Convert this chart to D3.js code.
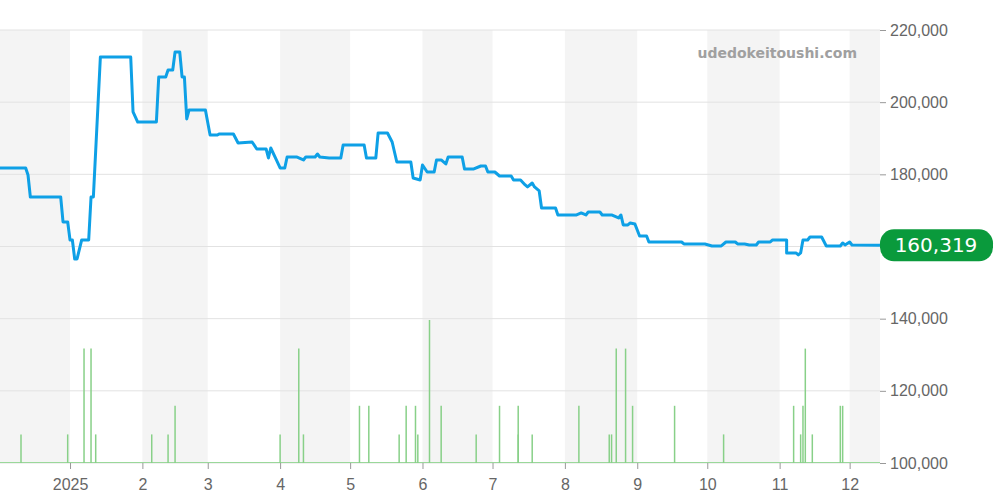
<!DOCTYPE html>
<html><head><meta charset="utf-8">
<script src="https://cdn.jsdelivr.net/npm/d3@7"></script>
<style>body{margin:0;background:#fff}svg{font-family:"DejaVu Sans",sans-serif}</style>
</head><body><svg id="c" width="1000" height="500"></svg>
<script>
// price series: [days since 2024-12-01, price]
var priceDays = [1,12,13,14,27,28,30,31,32,33,34,36,39,40,41,43,43,44,57,58,60,68,69,72,73,75,76,78,79,80,81,82,89,91,94,95,101,103,109,111,115,116,117,119,121,123,124,128,131,132,136,137,138,142,147,148,157,158,162,163,167,169,171,177,178,181,182,184,187,188,190,192,193,199,200,204,207,209,210,213,215,220,221,224,226,227,229,230,232,233,239,240,248,250,252,253,258,259,263,266,267,268,270,271,273,275,278,279,293,294,303,306,310,312,316,317,320,322,325,326,331,332,338,338,342,343,344,345,347,348,353,355,361,362,363,365,366,378];
var priceVals = [181760,181760,179820,173720,173720,166800,166800,161810,161810,156540,156540,161810,161810,173720,173720,199500,199500,212520,212520,197280,194500,194500,206980,206980,208920,208920,213900,213900,206980,206980,195340,197830,197830,190900,190900,191180,191180,188690,188970,187030,187030,184530,187300,184530,181760,181760,184810,184810,183980,184810,184810,185640,184810,184530,184530,188130,188130,184530,184530,191460,191460,188970,183420,183420,178990,178440,182590,180650,180650,183980,183980,182870,184810,184810,181480,181480,182310,182310,180650,180650,179540,179540,178440,178440,177050,176500,177600,176500,175390,170680,170680,168740,168740,169290,168740,169570,169570,168740,168740,167910,168740,165970,165970,166520,166240,162920,162920,161250,161250,160700,160700,160150,160150,161250,161250,160700,160700,160430,160430,161250,161250,161810,161810,158210,158210,157660,158210,161810,161810,162640,162640,160150,160150,160980,160430,161250,160430,160319];
// sales volume: [days since 2024-12-01, count]
var volDays = [10,30,37,40,42,66,73,76,121,129,131,155,159,172,175,179,180,185,190,205,215,223,223,229,249,262,263,265,269,272,290,311,341,344,345,346,349,361,362];
var volCounts = [1,1,4,4,1,1,1,2,1,4,1,2,2,1,2,2,1,5,2,1,2,1,2,1,2,1,1,4,4,2,2,1,2,1,2,4,1,2,2];
var yTicks = [100000,120000,140000,160000,180000,200000,220000];
var monthLabels = ["2025","2","3","4","5","6","7","8","9","10","11","12"];
var lastPrice = 160319;

var svg = d3.select("#c");
var W = 880, plotTop = 30, plotBottom = 463;
var t0 = new Date(2024, 11, 1);
function day(d){ return d3.timeDay.offset(t0, d); }

var x = d3.scaleTime().domain([new Date(2024,11,2), new Date(2025,11,14)]).range([0, W]);
var y = d3.scaleLinear().domain([100000, 220000]).range([plotBottom, plotTop]);
var yv = d3.scaleLinear().domain([0, 5]).range([plotBottom, plotBottom - 143]);

// alternating month bands
var months = d3.timeMonth.range(new Date(2024,11,1), new Date(2026,0,1));
svg.append("g").selectAll("rect").data(months.filter(function(m,i){ return i % 2 == 0; }))
  .enter().append("rect")
  .attr("x", function(m){ return Math.max(0, x(m)); })
  .attr("width", function(m){ return Math.min(W, x(d3.timeMonth.offset(m,1))) - Math.max(0, x(m)); })
  .attr("y", plotTop).attr("height", plotBottom - plotTop).attr("fill", "#f4f4f4");

svg.append("g").selectAll("line").data(yTicks).enter().append("line")
  .attr("x1", 0).attr("x2", W).attr("y1", y).attr("y2", y)
  .attr("stroke", "#e2e2e2").attr("stroke-width", 1);

// volume
svg.append("line").attr("x1",0).attr("x2",W).attr("y1",plotBottom-0.5).attr("y2",plotBottom-0.5)
  .attr("stroke","#9ad89a").attr("stroke-width",1);
svg.append("g").selectAll("line").data(volDays).enter().append("line")
  .attr("x1", function(d){ return x(day(d)); }).attr("x2", function(d){ return x(day(d)); })
  .attr("y1", plotBottom).attr("y2", function(d,i){ return yv(volCounts[i]); })
  .attr("stroke", "#88d088").attr("stroke-width", 1.5);

// price line
var line = d3.line().x(function(d){ return x(day(d)); }).y(function(d,i){ return y(priceVals[i]); });
svg.append("path").attr("d", line(priceDays)).attr("fill","none")
  .attr("stroke","#0ea0e6").attr("stroke-width",3).attr("stroke-linejoin","round");

// y axis (label under the badge is hidden)
var yAxis = d3.axisRight(y).tickValues(yTicks).tickSize(6).tickPadding(4)
  .tickFormat(function(d){ return d == 160000 ? "" : d3.format(",")(d); });
var ya = svg.append("g").attr("transform","translate(" + W + ",0)").call(yAxis);
ya.select(".domain").remove();
ya.selectAll("line").attr("stroke","#999");
ya.selectAll("text").attr("fill","#666").attr("font-size",16);

// x axis
var xAxis = d3.axisBottom(x).ticks(d3.timeMonth.every(1)).tickSize(6)
  .tickFormat(function(d){ return monthLabels[(d.getFullYear()-2025)*12 + d.getMonth()]; });
var xa = svg.append("g").attr("transform","translate(0," + plotBottom + ")").call(xAxis);
xa.select(".domain").remove();
xa.selectAll("line").attr("stroke","#999");
xa.selectAll("text").attr("fill","#666").attr("font-size",16).attr("dy","1.1em");

// last price badge
var ly = y(lastPrice);
svg.append("rect").attr("x", W).attr("y", ly - 16).attr("width", 113).attr("height", 32)
  .attr("rx", 14).attr("fill", "#0a9a3c");
svg.append("text").attr("x", W + 56).attr("y", ly + 7).attr("text-anchor","middle")
  .attr("fill","#fff").attr("font-size",20).text(d3.format(",")(lastPrice));

svg.append("text").attr("x", 857).attr("y", 58).attr("text-anchor","end")
  .attr("fill","#a0a0a0").attr("font-size",14).attr("font-weight","bold").text("udedokeitoushi.com");
</script></body></html>
